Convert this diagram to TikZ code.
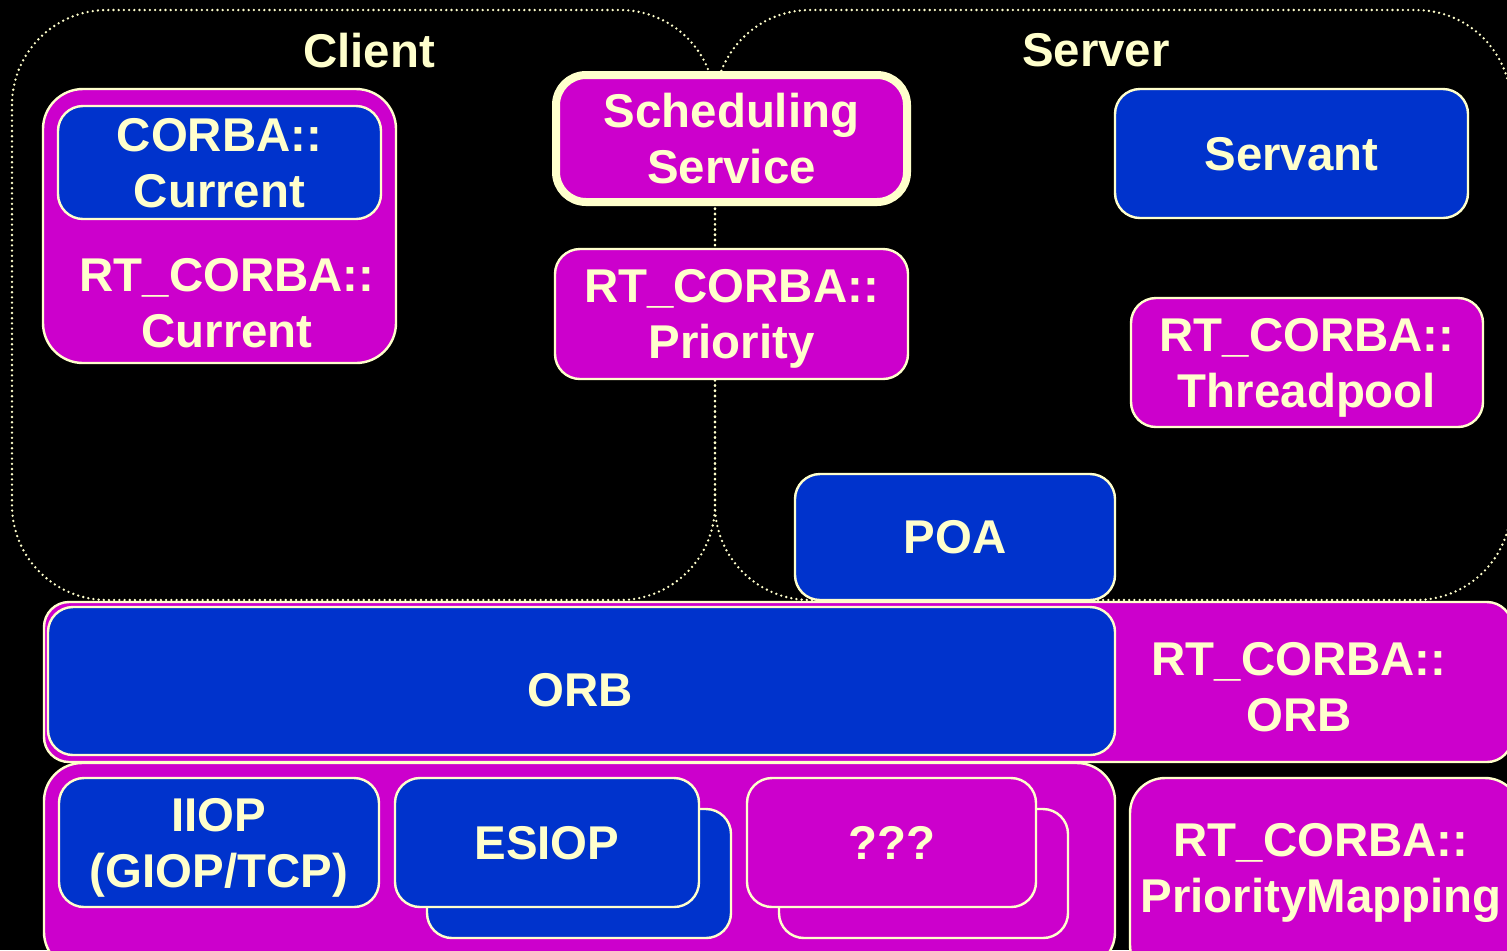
\documentclass[tikz,border=0pt]{standalone}
\usepackage{fontspec}
\setmainfont{Liberation Sans}
\definecolor{cream}{HTML}{FFFFCC}
\definecolor{orbblue}{HTML}{0033CC}
\definecolor{rtmagenta}{HTML}{CC00CC}
\newcommand{\cardfont}{\bfseries\fontsize{23.7}{28}\selectfont}
\tikzset{
  region/.style={draw=cream, line width=1.3pt, dash pattern=on 0pt off 2.6pt,
    line cap=round, rounded corners=47.5pt},
  card/.style={draw=cream, line width=1.2pt, rounded corners=12.5pt, inner sep=0pt,
    text=cream, align=center, font=\cardfont, text depth=0pt},
  bluecard/.style={card, fill=orbblue},
  magcard/.style={card, fill=rtmagenta},
  caption/.style={text=cream, align=center, font=\cardfont, inner sep=0pt, text depth=0pt},
  boxsize/.style 2 args={minimum width=#1, minimum height=#2}
}
\begin{document}
\begin{tikzpicture}[x=0.5pt, y=-0.5pt]
  % canvas
  \fill[black] (0,0) rectangle (1507,950);
  \useasboundingbox (0,0) rectangle (1507,950);
  \clip (0,0) rectangle (1507,950);

  % client and server domains
  \draw[region] (12,10) rectangle (715,600);
  \draw[region] (715,10) rectangle (1511,600);
  \node[caption] (clientlabel) at (369,50) {Client};
  \node[caption] (serverlabel) at (1096,50) {Server};

  % client side
  \node[magcard, rounded corners=20pt, boxsize={176.5pt}{137pt}] (rtcurrent) at (219.5,226) {};
  \node[caption] (rtcurrenttext) at (227,302.5) {RT\_CORBA::\\Current};
  \node[bluecard, boxsize={161.5pt}{56.5pt}] (corbacurrent) at (219.5,162.5) {CORBA::\\Current};

  % shared services
  \node[magcard, line width=4pt, rounded corners=15pt, boxsize={175.5pt}{63.5pt}] (sched) at (731.5,138.5) {Scheduling\\Service};
  \node[magcard, boxsize={176.5pt}{65pt}] (priority) at (731.5,314) {RT\_CORBA::\\Priority};

  % server side
  \node[bluecard, boxsize={176.5pt}{64.5pt}] (servant) at (1291.5,153.5) {Servant};
  \node[magcard, boxsize={176pt}{64.5pt}] (threadpool) at (1307,362.5) {RT\_CORBA::\\Threadpool};
  \node[bluecard, boxsize={160pt}{63pt}] (poa) at (955,537) {POA};

  % ORB layer
  \node[magcard, boxsize={734pt}{80pt}] (rtorb) at (778,682) {};
  \node[bluecard, boxsize={533.5pt}{74pt}] (orb) at (581.5,681) {};
  \node[caption] (orbtext) at (580,690) {ORB};
  \node[caption] (rtorbtext) at (1299,686.5) {RT\_CORBA::\\ORB};

  % transport protocols
  \node[magcard, rounded corners=19pt, boxsize={535.5pt}{103.5pt}] (transports) at (579.5,866.5) {};
  \node[bluecard, boxsize={160pt}{64.5pt}] (iiop) at (219,842.5) {IIOP\\(GIOP/TCP)};
  \node[bluecard, boxsize={152pt}{64.5pt}] (esiopback) at (579,873.5) {};
  \node[bluecard, boxsize={152pt}{64.5pt}] (esiop) at (547,842.5) {ESIOP};
  \node[magcard, boxsize={144.5pt}{64.5pt}] (otherback) at (923.5,873.5) {};
  \node[magcard, boxsize={144.5pt}{64.5pt}] (other) at (891.5,842.5) {???};

  % priority mapping
  \node[magcard, rounded corners=17.5pt, boxsize={195pt}{101pt}] (primap) at (1325,879) {};
  \node[caption] (primaptext) at (1321,868) {RT\_CORBA::\\PriorityMapping};
\end{tikzpicture}
\end{document}
